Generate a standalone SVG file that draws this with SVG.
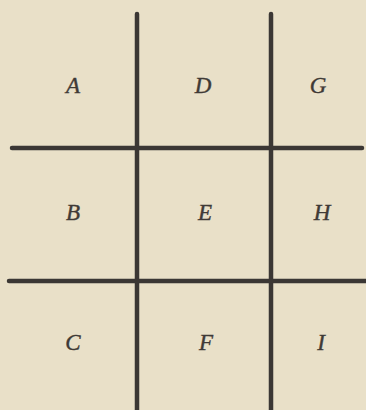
<svg xmlns="http://www.w3.org/2000/svg" width="366" height="410" viewBox="0 0 366 410">
<style>
.ln{stroke:#3b3734;stroke-width:4.5;stroke-linecap:round;fill:none}
.lb{font-family:"Liberation Serif","DejaVu Serif",serif;font-style:italic;font-size:23px;fill:#3f3a36;stroke:#3f3a36;stroke-width:0.4;text-anchor:middle}
</style>
<rect width="366" height="410" fill="#e9e0c8"/>
<g id="connectors">
<line class="ln" x1="137" y1="14" x2="137" y2="412"/>
<line class="ln" x1="271" y1="14" x2="271" y2="412"/>
<line class="ln" x1="12" y1="148" x2="362" y2="148"/>
<line class="ln" x1="9" y1="281" x2="366" y2="281"/>
</g>
<g id="A"><text class="lb" x="73" y="93">A</text></g>
<g id="D"><text class="lb" x="203" y="93">D</text></g>
<g id="G"><text class="lb" x="318" y="93">G</text></g>
<g id="B"><text class="lb" x="73" y="220">B</text></g>
<g id="E"><text class="lb" x="205" y="220">E</text></g>
<g id="H"><text class="lb" x="322" y="220">H</text></g>
<g id="C"><text class="lb" x="73" y="350">C</text></g>
<g id="F"><text class="lb" x="206" y="350">F</text></g>
<g id="I"><text class="lb" x="321" y="350">I</text></g>
</svg>
